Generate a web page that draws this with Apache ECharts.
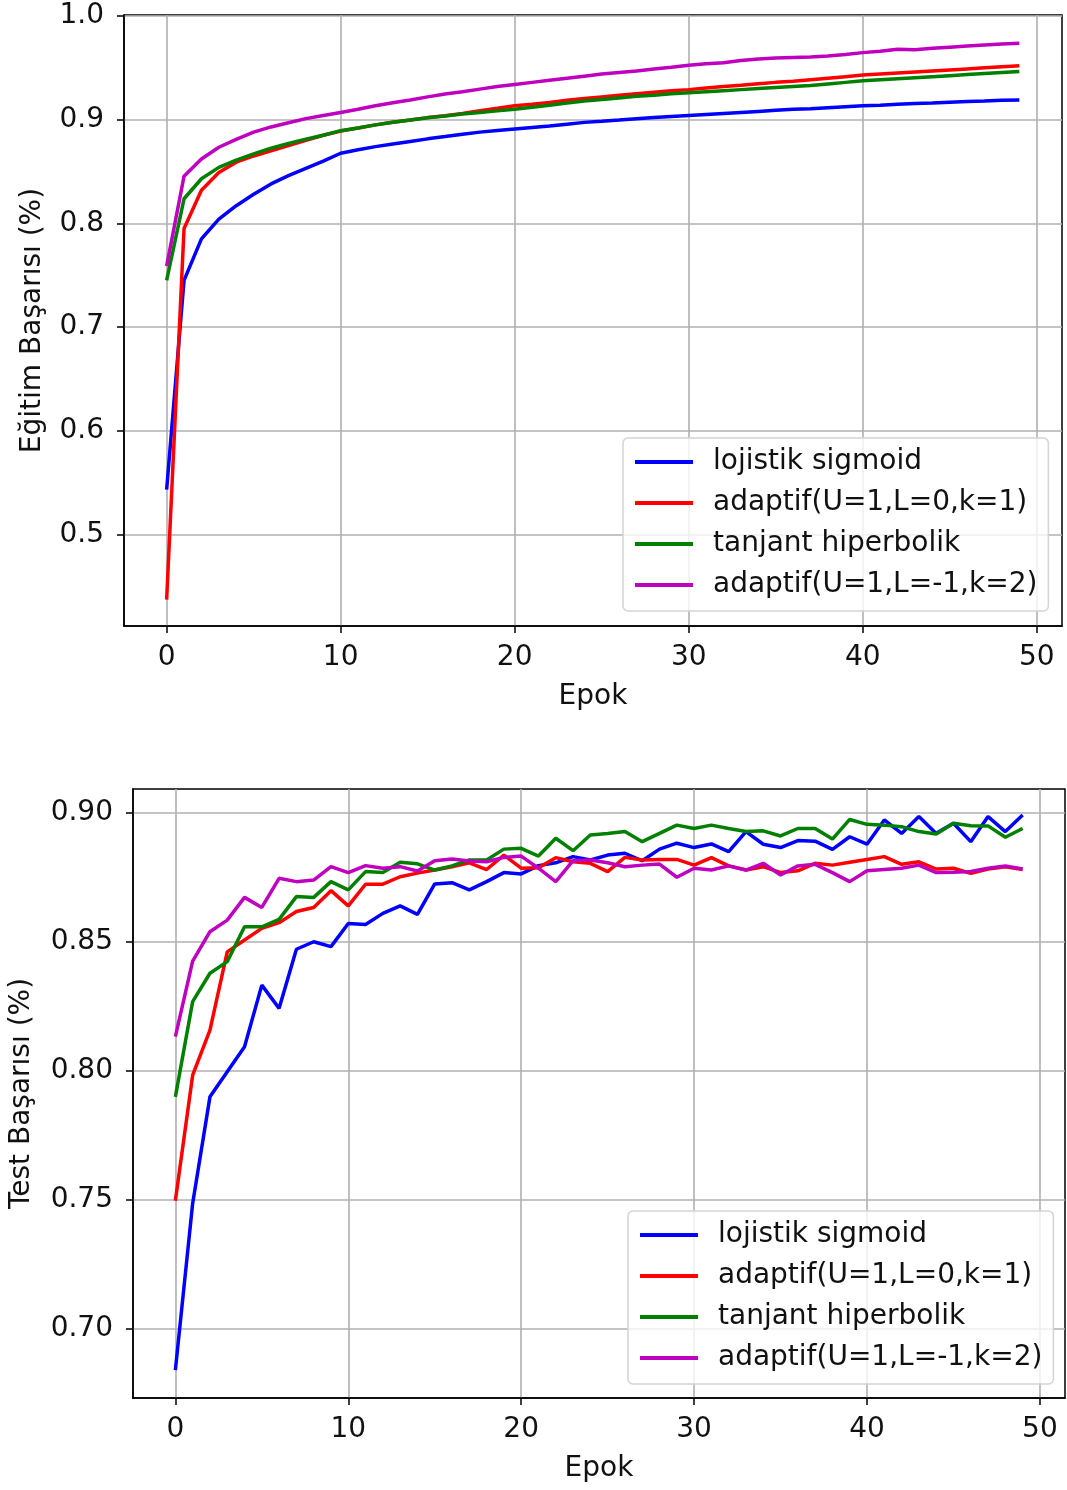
<!DOCTYPE html>
<html>
<head>
<meta charset="utf-8">
<script src="https://cdn.jsdelivr.net/npm/echarts@6/dist/echarts.min.js"></script>
<style>
    html, body { margin: 0; padding: 0; background: #fff; }
    #chart { width: 1067px; height: 1490px; }
</style>
</head>
<body>
<div id="chart"></div>
<script>
// names and colours of the four activation functions
const SERIES_NAMES = ["lojistik sigmoid", "adaptif(U=1,L=0,k=1)", "tanjant hiperbolik", "adaptif(U=1,L=-1,k=2)"];
const SERIES_COLORS = ["#0000ff", "#ff0000", "#008000", "#bf00bf"];

const EPOCH_TICKS = [0, 10, 20, 30, 40, 50];
const TRAIN_Y_TICKS = [0.5, 0.6, 0.7, 0.8, 0.9, 1.0];
const TEST_Y_TICKS = [0.70, 0.75, 0.80, 0.85, 0.90];

// training accuracy, epochs 0..49
const trainSigmoid = [0.543, 0.745, 0.785, 0.804, 0.817, 0.828, 0.838, 0.846, 0.853, 0.860,
    0.8676, 0.871, 0.874, 0.8765, 0.879, 0.8815, 0.8837, 0.886, 0.888, 0.8895,
    0.891, 0.8925, 0.894, 0.8957, 0.8974, 0.8985, 0.8997, 0.901, 0.902, 0.903,
    0.904, 0.905, 0.906, 0.907, 0.908, 0.909, 0.910, 0.9105, 0.9115, 0.9125,
    0.9135, 0.914, 0.9148, 0.9155, 0.916, 0.9168, 0.9175, 0.918, 0.9187, 0.919];
const trainAdaptif1 = [0.437, 0.795, 0.832, 0.849, 0.859, 0.865, 0.870, 0.875, 0.880, 0.885,
    0.889, 0.892, 0.895, 0.8975, 0.8997, 0.902, 0.9038, 0.906, 0.9087, 0.911,
    0.9135, 0.915, 0.9167, 0.9187, 0.9205, 0.922, 0.9235, 0.925, 0.9265, 0.928,
    0.929, 0.9305, 0.932, 0.9333, 0.9347, 0.936, 0.937, 0.9385, 0.940, 0.9415,
    0.943, 0.944, 0.945, 0.946, 0.947, 0.948, 0.949, 0.950, 0.951, 0.952];
const trainTanh = [0.745, 0.8237, 0.843, 0.854, 0.861, 0.867, 0.8725, 0.877, 0.8812, 0.885,
    0.8894, 0.892, 0.895, 0.8975, 0.8997, 0.9018, 0.9035, 0.9055, 0.907, 0.9085,
    0.910, 0.912, 0.914, 0.916, 0.918, 0.9195, 0.921, 0.9225, 0.9235, 0.925,
    0.926, 0.927, 0.928, 0.929, 0.930, 0.931, 0.932, 0.933, 0.9345, 0.936,
    0.9375, 0.9385, 0.9395, 0.9405, 0.9415, 0.9425, 0.9435, 0.9445, 0.9455, 0.9465];
const trainAdaptif2 = [0.7587, 0.8455, 0.862, 0.8734, 0.881, 0.888, 0.893, 0.897, 0.901, 0.904,
    0.907, 0.910, 0.9135, 0.9163, 0.919, 0.922, 0.9247, 0.927, 0.9295, 0.932,
    0.934, 0.936, 0.938, 0.940, 0.942, 0.944, 0.9455, 0.947, 0.949, 0.9505,
    0.9526, 0.954, 0.955, 0.957, 0.9585, 0.9595, 0.960, 0.9605, 0.9615, 0.963,
    0.9647, 0.966, 0.968, 0.9675, 0.969, 0.970, 0.971, 0.972, 0.973, 0.9737];

// test accuracy, epochs 0..49
const testSigmoid = [0.6841, 0.7487, 0.790, 0.7997, 0.8094, 0.8333, 0.8243, 0.8472, 0.8501, 0.8482,
    0.8572, 0.8568, 0.8611, 0.8640, 0.8607, 0.8725, 0.873, 0.8702, 0.8734, 0.8769,
    0.8764, 0.8796, 0.8807, 0.8831, 0.8818, 0.8837, 0.8844, 0.8815, 0.8860, 0.8883,
    0.8866, 0.888, 0.885, 0.8928, 0.8879, 0.8866, 0.8893, 0.8891, 0.8859, 0.8908,
    0.8879, 0.8973, 0.8921, 0.8986, 0.8921, 0.896, 0.8889, 0.8986, 0.8928, 0.8992];
const testAdaptif1 = [0.7497, 0.7984, 0.8159, 0.8462, 0.8508, 0.8553, 0.8575, 0.8618, 0.8634, 0.8699,
    0.8640, 0.8724, 0.8724, 0.8753, 0.8767, 0.8779, 0.8792, 0.8807, 0.8781, 0.8837,
    0.8786, 0.8788, 0.8827, 0.8811, 0.8805, 0.8773, 0.8828, 0.8818, 0.882, 0.882,
    0.8798, 0.8827, 0.8795, 0.8779, 0.8792, 0.8769, 0.8776, 0.8805, 0.8798, 0.8809,
    0.882, 0.8831, 0.8801, 0.8811, 0.8783, 0.8786, 0.8766, 0.8783, 0.8792, 0.8781];
const testTanh = [0.790, 0.8269, 0.8379, 0.8424, 0.8559, 0.8559, 0.8588, 0.8676, 0.8673, 0.8734,
    0.8702, 0.8773, 0.8769, 0.8809, 0.8803, 0.8779, 0.8795, 0.8818, 0.8818, 0.886,
    0.8863, 0.8833, 0.8902, 0.8854, 0.8915, 0.8921, 0.8928, 0.8889, 0.8921, 0.8953,
    0.894, 0.8953, 0.894, 0.8928, 0.8931, 0.8911, 0.894, 0.894, 0.8899, 0.8975,
    0.8956, 0.8953, 0.8947, 0.8928, 0.8919, 0.896, 0.8951, 0.895, 0.8906, 0.894];
const testAdaptif2 = [0.8133, 0.8426, 0.854, 0.8585, 0.8673, 0.8634, 0.8747, 0.8734, 0.874, 0.8792,
    0.8769, 0.8796, 0.8786, 0.8792, 0.8775, 0.8815, 0.8822, 0.8814, 0.8811, 0.8828,
    0.8833, 0.8786, 0.8734, 0.8815, 0.8818, 0.8807, 0.8792, 0.8798, 0.8802, 0.8751,
    0.8786, 0.8779, 0.8795, 0.8779, 0.8805, 0.876, 0.8795, 0.8801, 0.8769, 0.8734,
    0.8776, 0.8781, 0.8786, 0.8798, 0.8769, 0.877, 0.8773, 0.8786, 0.8795, 0.8783];

const TEXT_COLOR = "#111";
const FONT = "DejaVu Sans";
const FONT_SIZE = 28;

function epochAxis(gridIndex) {
    return {
        type: "value",
        gridIndex,
        min: -2.45,
        max: 51.45,
        name: "Epok",
        nameLocation: "middle",
        nameGap: 57,
        nameTextStyle: { fontSize: FONT_SIZE, color: TEXT_COLOR, fontFamily: FONT },
        axisLine: { show: true, onZero: false, lineStyle: { color: "#000", width: 1.5 } },
        axisTick: { show: true, inside: false, length: 7, customValues: EPOCH_TICKS, lineStyle: { color: "#000", width: 1.5 } },
        axisLabel: { customValues: EPOCH_TICKS, fontSize: FONT_SIZE, margin: 18, color: TEXT_COLOR, fontFamily: FONT },
        splitLine: { show: true, lineStyle: { color: "#b0b0b0", width: 1.6 } },
    };
}

function accuracyAxis(gridIndex, name, min, max, ticks, digits, nameGap) {
    return {
        type: "value",
        gridIndex,
        min,
        max,
        name,
        nameLocation: "middle",
        nameRotate: 90,
        nameGap,
        nameTextStyle: { fontSize: FONT_SIZE, color: TEXT_COLOR, fontFamily: FONT },
        axisLine: { show: true, onZero: false, lineStyle: { color: "#000", width: 1.5 } },
        axisTick: { show: true, inside: false, length: 7, customValues: ticks, lineStyle: { color: "#000", width: 1.5 } },
        axisLabel: {
            customValues: ticks,
            fontSize: FONT_SIZE,
            margin: 20,
            color: TEXT_COLOR,
            fontFamily: FONT,
            formatter: (v) => v.toFixed(digits),
        },
        splitLine: { show: true, lineStyle: { color: "#b0b0b0", width: 1.6 } },
    };
}

function legendBox(left, top) {
    return {
        orient: "vertical",
        left,
        top,
        itemWidth: 58,
        itemHeight: 27,
        itemGap: 13,
        padding: [10, 11, 12, 10],
        backgroundColor: "rgba(255,255,255,0.8)",
        borderColor: "#d4d4d4",
        borderWidth: 1.5,
        borderRadius: 5,
        lineStyle: { width: 4 },
        itemStyle: { opacity: 0 },
        textStyle: { fontSize: FONT_SIZE, lineHeight: 28, color: TEXT_COLOR, fontFamily: FONT, padding: [0, 0, 0, 15] },
        data: SERIES_NAMES,
    };
}

function lineSeries(index, values, axisIndex) {
    return {
        name: SERIES_NAMES[index],
        type: "line",
        xAxisIndex: axisIndex,
        yAxisIndex: axisIndex,
        symbol: "none",
        showSymbol: false,
        color: SERIES_COLORS[index],
        lineStyle: { width: 3.5, color: SERIES_COLORS[index] },
        data: values.map((v, epoch) => [epoch, v]),
    };
}

const chart = echarts.init(document.getElementById("chart"));
const trainSets = [trainSigmoid, trainAdaptif1, trainTanh, trainAdaptif2];
const testSets = [testSigmoid, testAdaptif1, testTanh, testAdaptif2];

chart.setOption({
    animation: false,
    backgroundColor: "#fff",
    textStyle: { fontFamily: FONT },
    grid: [
        { left: 124, top: 15, width: 938, height: 611, show: true, borderColor: "#000", borderWidth: 1.5, backgroundColor: "transparent" },
        { left: 129, top: 789, width: 936, height: 609, show: true, borderColor: "#000", borderWidth: 1.5, backgroundColor: "transparent" },
    ],
    xAxis: [epochAxis(0), epochAxis(1)],
    yAxis: [
        accuracyAxis(0, "Eğitim Başarısı (%)", 0.4115, 1.001, TRAIN_Y_TICKS, 1, 77),
        accuracyAxis(1, "Test Başarısı (%)", 0.6733, 0.9093, TEST_Y_TICKS, 2, 97),
    ],
    legend: [legendBox(623, 438), legendBox(628, 1211)],
    series: [
        ...trainSets.map((values, i) => lineSeries(i, values, 0)),
        ...testSets.map((values, i) => lineSeries(i, values, 1)),
    ],
});
</script>
</body>
</html>
